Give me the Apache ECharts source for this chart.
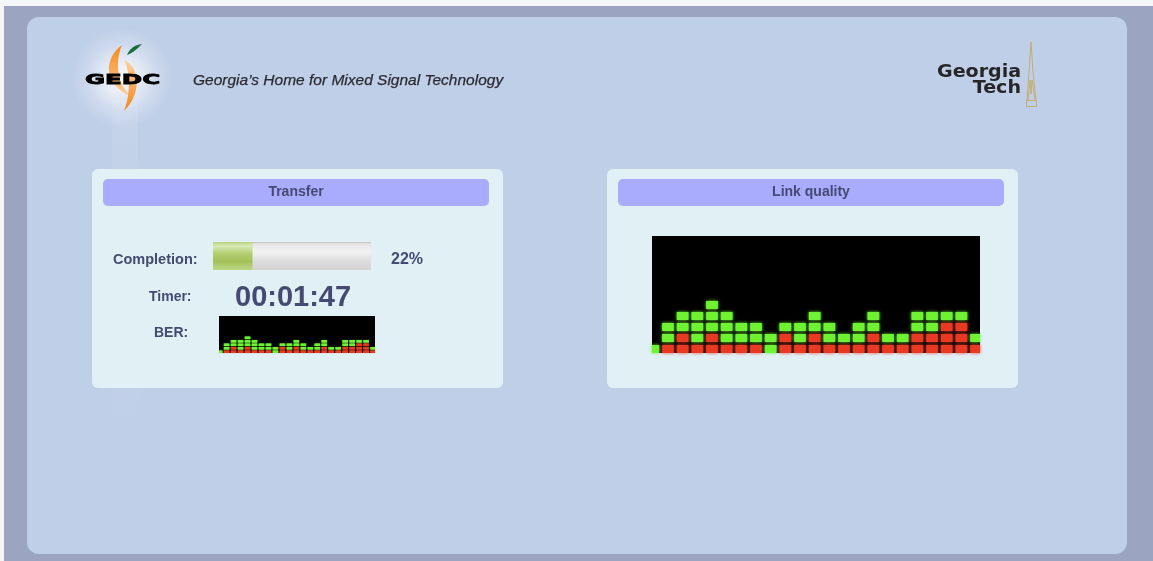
<!DOCTYPE html>
<html>
<head>
<meta charset="utf-8">
<script src="https://cdn.jsdelivr.net/npm/echarts@6/dist/echarts.min.js"></script>
<style>
  html, body { margin: 0; padding: 0; background: #f4f6fa; }
  #main { width: 1153px; height: 561px; }
</style>
</head>
<body>
<div id="main"></div>
<script>
// led columns, counted from the bottom: red cells first, green cells on top
const redCells   = [0, 1, 2, 1, 2, 1, 1, 1, 0, 2, 1, 2, 1, 1, 1, 2, 1, 1, 2, 2, 3, 3, 1];
const greenCells = [1, 2, 2, 3, 3, 3, 2, 2, 2, 1, 2, 2, 2, 1, 2, 2, 1, 1, 2, 2, 1, 1, 1];

// transfer panel values
const completionFill = [25];      // length of the green bar
const completionLabel = '22%';
const timerLabel = '00:01:47';

const RED = '#e83a22';
const GREEN = '#6ef232';
const TEXT = '#454a72';
const FONT = '"Liberation Sans", Arial, sans-serif';

const myChart = echarts.init(document.getElementById('main'));

const ledData = redCells.map((r, i) => [i, r, greenCells[i]]);

// one rect per led cell, positioned through the axes
function renderLeds(params, api) {
  const i = api.value(0);
  const red = api.value(1);
  const total = red + api.value(2);
  const unit = api.size([1, 1]);
  const w = unit[0] * 0.8;
  const h = unit[1] * 0.73;
  const children = [];
  for (let k = 0; k < total; k++) {
    const p = api.coord([i, k]);
    const rect = echarts.graphic.clipRectByRect(
      { x: p[0] - w / 2, y: p[1] - h, width: w, height: h },
      params.coordSys
    );
    if (!rect) continue;
    const color = k < red ? RED : GREEN;
    children.push({
      type: 'rect',
      shape: rect,
      style: { fill: color, shadowBlur: unit[1] * 0.3, shadowColor: color }
    });
  }
  return { type: 'group', children };
}

const ledAxisX = { type: 'value', min: -0.09, max: 22.27, show: false };
const ledAxisY = { type: 'value', min: 0, max: 10.64, show: false };

function text(x, y, str, font, fill, align) {
  return {
    type: 'text', x, y, z: 20,
    style: { text: str, font, fill, textAlign: align || 'left', textVerticalAlign: 'middle' }
  };
}

// crescent for the logo: two cubic curves sampled into polygon points
function bez(p0, p1, p2, p3, n) {
  const pts = [];
  for (let s = 0; s <= n; s++) {
    const t = s / n, u = 1 - t;
    pts.push([
      u * u * u * p0[0] + 3 * u * u * t * p1[0] + 3 * u * t * t * p2[0] + t * t * t * p3[0],
      u * u * u * p0[1] + 3 * u * u * t * p1[1] + 3 * u * t * t * p2[1] + t * t * t * p3[1]
    ]);
  }
  return pts;
}
function crescent(a, c1, c2, b, d1, d2) {
  return bez(a, c1, c2, b, 16).concat(bez(b, d1, d2, a, 16).slice(1));
}

const grad = (a, b) => new echarts.graphic.LinearGradient(0, 0, 0, 1, [
  { offset: 0, color: a }, { offset: 1, color: b }
]);

const graphics = [
  // frame
  { type: 'rect', z: 0, shape: { x: 4, y: 6, width: 1149, height: 555 }, style: { fill: '#9ba4c1' } },
  { type: 'rect', z: 1, shape: { x: 27, y: 17, width: 1100, height: 537, r: 12 }, style: { fill: '#c0cfe8' } },
  { type: 'rect', z: 2, shape: { x: 112, y: 100, width: 26, height: 360 },
    style: { fill: grad('rgba(255,255,255,0.08)', 'rgba(255,255,255,0)') } },

  // GEDC logo
  { type: 'circle', z: 3, shape: { cx: 122, cy: 78, r: 50 },
    style: { fill: new echarts.graphic.RadialGradient(0.5, 0.5, 0.5, [
      { offset: 0, color: 'rgba(255,255,255,0.9)' }, { offset: 0.35, color: 'rgba(255,255,255,0.6)' },
      { offset: 0.7, color: 'rgba(255,255,255,0.2)' }, { offset: 1, color: 'rgba(255,255,255,0)' }]) } },
  { type: 'polygon', z: 4,
    shape: { points: crescent([122, 45], [104, 58], [102, 84], [132, 97], [118, 86], [114, 64]) },
    style: { fill: grad('#f58a1a', '#fcd0a0') } },
  { type: 'polygon', z: 4,
    shape: { points: crescent([124, 60], [142, 68], [140, 96], [124, 111], [130, 96], [131, 72]) },
    style: { fill: grad('#fcd2a0', '#f5851a') } },
  { type: 'polygon', z: 4,
    shape: { points: crescent([127, 55], [130, 48], [135, 45], [142, 44], [138, 48], [133, 53]) },
    style: { fill: '#1e6b3c' } },
  { type: 'text', z: 5, x: 85, y: 80, scaleX: 1.75,
    style: { text: 'GEDC', font: 'bold 14px "DejaVu Sans", sans-serif', fill: '#000',
      stroke: '#000', lineWidth: 0.8,
      textAlign: 'left', textVerticalAlign: 'middle' } },
  { type: 'text', z: 5, x: 193, y: 81,
    style: { text: 'Georgia\u2019s Home for Mixed Signal Technology', font: 'italic 15.5px ' + FONT,
      fill: '#2a2a30', stroke: '#2a2a30', lineWidth: 0.25,
      textAlign: 'left', textVerticalAlign: 'middle' } },

  // Georgia Tech logo
  { type: 'text', z: 5, x: 937, y: 72, scaleX: 1.06,
    style: { text: 'Georgia', font: 'bold 18px "DejaVu Sans", sans-serif', fill: '#262628', textAlign: 'left', textVerticalAlign: 'middle' } },
  { type: 'text', z: 5, x: 1021, y: 88.5, scaleX: 1.06,
    style: { text: 'Tech', font: 'bold 18px "DejaVu Sans", sans-serif', fill: '#262628', textAlign: 'right', textVerticalAlign: 'middle' } },
  { type: 'polyline', z: 5, shape: { points: [[1027, 101], [1029, 72], [1031, 42], [1033, 72], [1036, 101]] },
    style: { stroke: '#c6ad74', lineWidth: 1, fill: null } },
  { type: 'polyline', z: 5, shape: { points: [[1028, 100], [1030, 80], [1031, 94], [1032, 80], [1035, 100]] },
    style: { stroke: '#c6ad74', lineWidth: 1, fill: null } },
  { type: 'rect', z: 5, shape: { x: 1026.5, y: 100.5, width: 10, height: 6 },
    style: { stroke: '#c6ad74', lineWidth: 1, fill: null } },

  // cards
  { type: 'rect', z: 3, shape: { x: 92, y: 169, width: 411, height: 219, r: 6 }, style: { fill: '#e0f0f5' } },
  { type: 'rect', z: 3, shape: { x: 607, y: 169, width: 411, height: 219, r: 6 }, style: { fill: '#e0f0f5' } },
  { type: 'rect', z: 4, shape: { x: 103, y: 179, width: 386, height: 27, r: 5 }, style: { fill: '#a9abfd' } },
  { type: 'rect', z: 4, shape: { x: 618, y: 179, width: 386, height: 27, r: 5 }, style: { fill: '#a9abfd' } },
  text(296, 192.5, 'Transfer', 'bold 14px ' + FONT, TEXT, 'center'),
  text(811, 192.5, 'Link quality', 'bold 14px ' + FONT, TEXT, 'center'),

  // led backgrounds
  { type: 'rect', z: 5, shape: { x: 219, y: 316, width: 156, height: 37 }, style: { fill: '#000' } },
  { type: 'rect', z: 5, shape: { x: 652, y: 236, width: 328, height: 117 }, style: { fill: '#000' } },

  // transfer labels
  text(113, 260, 'Completion:', 'bold 14.5px ' + FONT, TEXT),
  text(391, 260, completionLabel, 'bold 16px ' + FONT, TEXT),
  text(149, 297.5, 'Timer:', 'bold 14px ' + FONT, TEXT),
  text(235, 298, timerLabel, 'bold 29px ' + FONT, TEXT),
  text(154, 333.5, 'BER:', 'bold 14px ' + FONT, TEXT)
];

const option = {
  animation: false,
  graphic: { elements: graphics },
  grid: [
    { left: 219, top: 316, width: 156, height: 37 },
    { left: 652, top: 236, width: 328, height: 117 },
    { left: 213, top: 242, width: 158, height: 28 }
  ],
  xAxis: [
    Object.assign({ gridIndex: 0 }, ledAxisX),
    Object.assign({ gridIndex: 1 }, ledAxisX),
    { gridIndex: 2, type: 'value', min: 0, max: 100, show: false }
  ],
  yAxis: [
    Object.assign({ gridIndex: 0 }, ledAxisY),
    Object.assign({ gridIndex: 1 }, ledAxisY),
    { gridIndex: 2, type: 'category', data: ['Completion'], show: false }
  ],
  series: [
    { type: 'custom', name: 'BER', xAxisIndex: 0, yAxisIndex: 0, z: 10,
      renderItem: renderLeds, data: ledData },
    { type: 'custom', name: 'Link quality', xAxisIndex: 1, yAxisIndex: 1, z: 10,
      renderItem: renderLeds, data: ledData },
    { type: 'bar', name: 'Completion', xAxisIndex: 2, yAxisIndex: 2, z: 10,
      data: completionFill, barWidth: 28,
      showBackground: true,
      backgroundStyle: {
        color: new echarts.graphic.LinearGradient(0, 0, 0, 1, [
          { offset: 0, color: '#c4c4c4' }, { offset: 0.08, color: '#e6e6e6' },
          { offset: 0.35, color: '#f2f2f2' }, { offset: 0.7, color: '#dcdcdc' },
          { offset: 1, color: '#d2d2d2' }])
      },
      itemStyle: {
        color: new echarts.graphic.LinearGradient(0, 0, 0, 1, [
          { offset: 0, color: '#b7d27e' }, { offset: 0.15, color: '#d9ebb6' },
          { offset: 0.4, color: '#b3cf72' }, { offset: 0.7, color: '#a3c157' },
          { offset: 1, color: '#bcd98a' }])
      }
    }
  ]
};

myChart.setOption(option);
</script>
</body>
</html>
